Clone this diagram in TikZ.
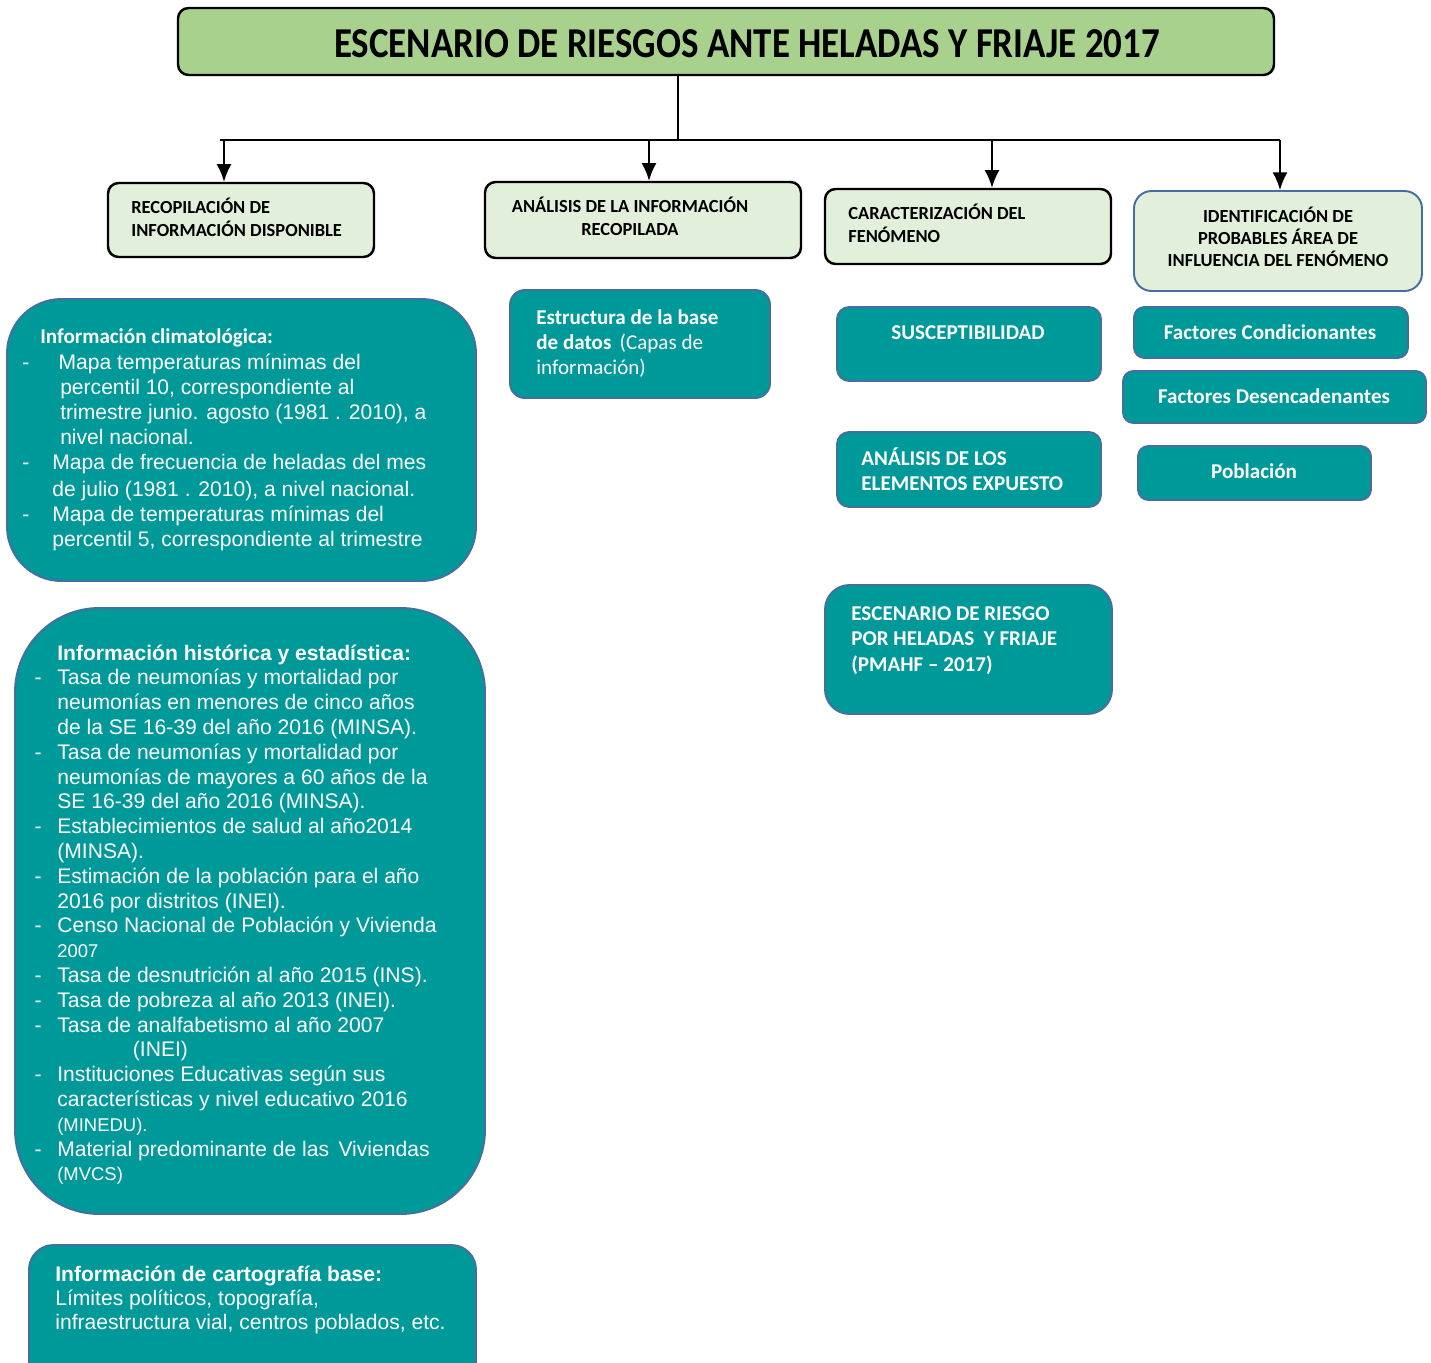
\documentclass[tikz,border=0pt]{standalone}
\usepackage{fontspec}
\setmainfont{Carlito}
\newfontfamily\arialf{Liberation Sans}
\usetikzlibrary{arrows.meta,fit}

\definecolor{verdetit}{RGB}{169,209,142}
\definecolor{verdeclaro}{RGB}{226,239,218}
\definecolor{turquesa}{RGB}{0,153,153}
\definecolor{bordeazul}{RGB}{70,110,160}

\newcommand{\guion}[1]{\llap{-\hspace{#1}}}
\newcommand{\lineas}[2][l]{\begin{tabular}[t]{@{}#1@{}}#2\end{tabular}}

\begin{document}
\begin{tikzpicture}[x=0.02cm,y=-0.02cm,>={Latex[length=10pt,width=8.5pt]}]
  \tikzstyle{titbox}=[draw,line width=1.4pt,rounded corners=6pt,fill=verdetit,inner sep=0pt]
  \tikzstyle{etapa}=[draw,line width=1.4pt,rounded corners=6pt,fill=verdeclaro,inner sep=0pt]
  \tikzstyle{tealbox}=[draw=bordeazul,line width=1.1pt,fill=turquesa,inner sep=0pt]
  \tikzstyle{etxt}=[inner sep=0pt,font=\bfseries\fontsize{10.5}{13.6}\selectfont]
  \tikzstyle{ttxt}=[inner sep=0pt,text=white,font=\bfseries\fontsize{12}{14.7}\selectfont]
  \tikzstyle{atxt}=[inner sep=0pt,text=white,font=\arialf\fontsize{12}{14.12}\selectfont]
  \tikzstyle{conector}=[line width=1.1pt]
  \clip (0,0) rectangle (1431,1363);

  % titulo y ramas
  \node[titbox,fit={(178,8) (1274,75)}] (titulo) {};
  \node[inner sep=0pt] (titulotxt) at (747,44)
    {\resizebox{470pt}{15.9pt}{\bfseries ESCENARIO DE RIESGOS ANTE HELADAS Y FRIAJE 2017}};

  \node[etapa,fit={(108,183) (374,257)}] (recop) {};
  \node[etapa,fit={(485,182) (801,258)}] (analisis) {};
  \node[etapa,fit={(825,189) (1111,264)}] (caract) {};
  \node[etapa,draw=bordeazul,line width=1.1pt,rounded corners=10pt,fit={(1134,191) (1422,291)}] (ident) {};

  \coordinate (bar) at (678,140);
  \coordinate (barL) at (220,140);
  \coordinate (barR) at (1280,140);
  \coordinate (r1) at (224,140);
  \coordinate (r2) at (649,140);
  \coordinate (r3) at (992,140);
  \coordinate (r4) at (1280,140);
  \draw[conector] (titulo.south -| bar) -- (bar);
  \draw[conector] (barL) -- (barR);
  \draw[conector,->] (r1) -- (r1 |- recop.north);
  \draw[conector,->] (r2) -- (r2 |- analisis.north);
  \draw[conector,->] (r3) -- (r3 |- caract.north);
  \draw[conector,->] (r4) -- (r4 |- ident.north);

  \node[etxt,anchor=base west] (recoptxt) at (131,213)
    {\lineas{RECOPILACIÓN DE\\INFORMACIÓN DISPONIBLE}};
  \node[etxt,anchor=base] (analisistxt) at (630,212)
    {\lineas[c]{ANÁLISIS DE LA INFORMACIÓN\\RECOPILADA}};
  \node[etxt,anchor=base west] (caracttxt) at (848,219)
    {\lineas{CARACTERIZACIÓN DEL\\FENÓMENO}};
  \node[etxt,anchor=base,font=\bfseries\fontsize{10.5}{12.8}\selectfont] (identtxt) at (1278,222)
    {\lineas[c]{IDENTIFICACIÓN DE\\PROBABLES ÁREA DE\\INFLUENCIA DEL FENÓMENO}};

  % columna de informacion
  \node[tealbox,rounded corners=31pt,fit={(7,299) (476,581)}] (clima) {};
  \node[inner sep=0pt,anchor=base west,text=white,font=\bfseries\fontsize{12}{14}\selectfont] (climatit) at (40,343)
    {Información climatológica:};
  \node[atxt,anchor=base west,font=\arialf\fontsize{12}{14.35}\selectfont] (climatxt) at (52,369)
    {\lineas{\guion{13pt}\hspace{3.5pt}Mapa temperaturas mínimas del\\
     \hspace{4.5pt}percentil 10, correspondiente al\\
     \hspace{4.5pt}trimestre junio. agosto (1981 . 2010), a\\
     \hspace{4.5pt}nivel nacional.\\
     \guion{13pt}Mapa de frecuencia de heladas del mes\\[0.6pt]
     de julio (1981 . 2010), a nivel nacional.\\
     \guion{13pt}Mapa de temperaturas mínimas del\\
     percentil 5, correspondiente al trimestre}};

  \node[tealbox,rounded corners=48pt,fit={(15,608) (485,1214)}] (historica) {};
  \node[atxt,anchor=base west] (historicatxt) at (57,660)
    {\lineas{\textbf{Información histórica y estadística:}\\
     \guion{9pt}Tasa de neumonías y mortalidad por\\
     neumonías en menores de cinco años\\
     de la SE 16-39 del año 2016 (MINSA).\\
     \guion{9pt}Tasa de neumonías y mortalidad por\\
     neumonías de mayores a 60 años de la\\
     SE 16-39 del año 2016 (MINSA).\\
     \guion{9pt}Establecimientos de salud al año2014\\
     (MINSA).\\
     \guion{9pt}Estimación de la población para el año\\
     2016 por distritos (INEI).\\
     \guion{9pt}Censo Nacional de Población y Vivienda\\
     {\fontsize{10.5}{12}\selectfont 2007}\\
     \guion{9pt}Tasa de desnutrición al año 2015 (INS).\\
     \guion{9pt}Tasa de pobreza al año 2013 (INEI).\\
     \guion{9pt}Tasa de analfabetismo al año 2007\\
     \hspace{43pt}(INEI)\\
     \guion{9pt}Instituciones Educativas según sus\\
     características y nivel educativo 2016\\
     {\fontsize{10.5}{12}\selectfont (MINEDU).}\\
     \guion{9pt}Material predominante de las\, Viviendas\\
     {\fontsize{10.5}{12}\selectfont (MVCS)}}};

  \node[tealbox,rounded corners=14pt,fit={(29,1245) (476,1420)}] (carto) {};
  \node[atxt,anchor=base west,font=\arialf\fontsize{12}{13.9}\selectfont] (cartotxt) at (55,1281)
    {\lineas{\textbf{Información de cartografía base:}\\
     Límites políticos, topografía,\\
     infraestructura vial, centros poblados, etc.}};

  % columna de analisis
  \node[tealbox,rounded corners=8.5pt,fit={(510,290) (770,398)}] (estructura) {};
  \node[ttxt,anchor=base west,font=\fontsize{12}{14.5}\selectfont] (estructuratxt) at (536,324)
    {\lineas{\textbf{Estructura de la base}\\\textbf{de datos}\ \,(Capas de\\información)}};

  % columna de caracterizacion
  \node[tealbox,rounded corners=7pt,fit={(837,307) (1101,381)}] (suscep) {};
  \node[ttxt,anchor=base] (susceptxt) at (968,339) {SUSCEPTIBILIDAD};
  \node[tealbox,rounded corners=7pt,fit={(837,432) (1101,507)}] (expuestos) {};
  \node[ttxt,anchor=base west] (expuestostxt) at (861,465)
    {\lineas{ANÁLISIS DE LOS\\ELEMENTOS EXPUESTO}};
  \node[tealbox,rounded corners=14pt,fit={(825,585) (1112,714)}] (escenario) {};
  \node[ttxt,anchor=base west] (escenariotxt) at (851,620)
    {\lineas{ESCENARIO DE RIESGO\\POR HELADAS\ \ Y FRIAJE\\(PMAHF -- 2017)}};

  % columna de identificacion
  \node[tealbox,rounded corners=6pt,fit={(1134,307) (1408,358)}] (condic) {};
  \node[ttxt,anchor=base] (condictxt) at (1270,339) {Factores Condicionantes};
  \node[tealbox,rounded corners=6pt,fit={(1123,371) (1426,423)}] (desenc) {};
  \node[ttxt,anchor=base] (desenctxt) at (1274,403) {Factores Desencadenantes};
  \node[tealbox,rounded corners=6pt,fit={(1138,446) (1371,500)}] (poblacion) {};
  \node[ttxt,anchor=base] (poblaciontxt) at (1254,478) {Población};
\end{tikzpicture}
\end{document}
